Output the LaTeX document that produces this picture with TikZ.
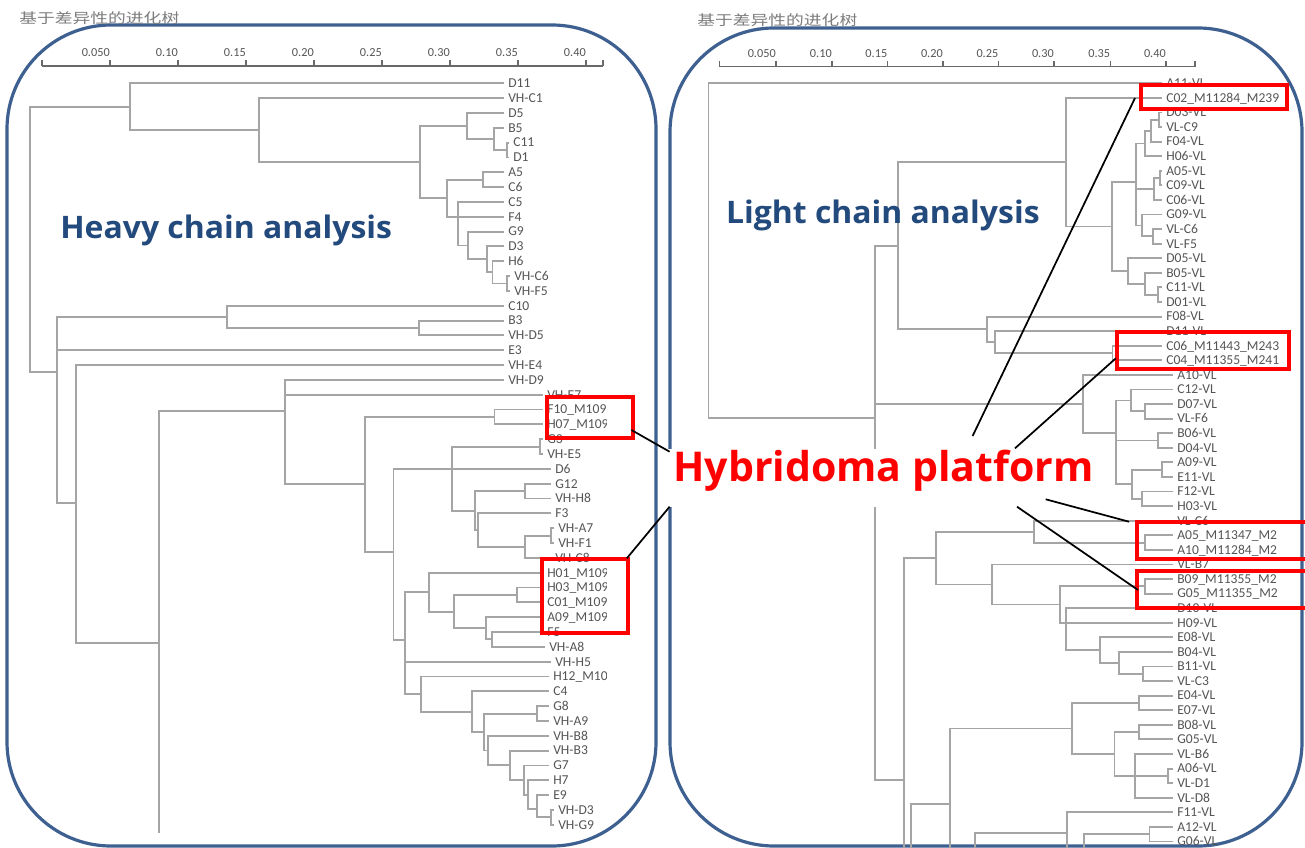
\documentclass[tikz,border=0pt]{standalone}
\usepackage{fontspec}
\setmainfont{Carlito}
\newfontfamily\bigfont{Open Sans}
\newfontfamily\cjkfont{Noto Sans CJK SC}
\usetikzlibrary{fit}
\definecolor{panelblue}{RGB}{62,96,145}
\definecolor{titleblue}{RGB}{35,74,125}
\definecolor{treegray}{RGB}{165,165,165}
\definecolor{labelgray}{RGB}{85,85,85}
\definecolor{axisgray}{RGB}{105,105,105}
\definecolor{cjkgray}{RGB}{125,125,125}
\begin{document}
\begin{tikzpicture}[x=0.75pt,y=-0.75pt,
  tree/.style={draw=treegray,line width=1.4pt},
  leaf/.style={anchor=west,inner sep=0pt,text height=6.5pt,text depth=0pt,font=\fontsize{10.2}{12}\selectfont,text=labelgray},
  axisline/.style={draw=axisgray,line width=1.1pt},
  axlab/.style={anchor=east,inner sep=0pt,text height=6pt,text depth=0pt,font=\fontsize{9.2}{10}\selectfont,text=labelgray},
  panel/.style={draw=panelblue,line width=2.4pt,rounded corners=78pt},
  redbox/.style={draw=red,line width=3pt,inner sep=0pt},
  pointer/.style={draw=black,line width=1.3pt},
  cjktitle/.style={anchor=base west,inner sep=0pt,text=cjkgray,font=\cjkfont\fontsize{10.5}{12}\selectfont},
  chaintitle/.style={anchor=base west,inner sep=0pt,text=titleblue,font=\bigfont\bfseries\fontsize{23.25}{28}\selectfont},
  hybtitle/.style={anchor=base west,inner sep=0pt,text=red,font=\bigfont\bfseries\fontsize{30.8}{36}\selectfont}
]
\useasboundingbox (0,0) rectangle (1305,848);
\fill[white] (0,0) rectangle (1305,848);

% ---------- panels ----------
\draw[panel] (7,25) rectangle (656,846);
\draw[panel] (670,28) rectangle (1302,846);

% ---------- titles ----------
\node[cjktitle] (tl) at (19,23.5) {\scalebox{1.27}[1]{基于差异性的进化树}};
\node[cjktitle] (tr) at (697,25.5) {\scalebox{1.27}[1]{基于差异性的进化树}};

% ---------- axes ----------
\draw[axisline] (42,66) -- (603,66);
\foreach \x in {42,603} \draw[axisline] (\x,66) -- (\x,60);
\foreach \x/\t in {110/0.050,178/0.10,246/0.15,314/0.20,382/0.25,450/0.30,518/0.35,586/0.40}{
  \draw[axisline] (\x,66) -- (\x,60);
  \node[axlab] at (\x,53) {\t};
}
\draw[axisline] (719.6,66.7) -- (1194.8,66.7);
\foreach \x in {719.6,1194.8} \draw[axisline] (\x,66.7) -- (\x,61);
\foreach \x/\t in {776/0.050,832/0.10,887.5/0.15,943/0.20,998.5/0.25,1054/0.30,1110.4/0.35,1166/0.40}{
  \draw[axisline] (\x,66.7) -- (\x,61);
  \node[axlab] at (\x,53.5) {\t};
}

% ---------- left tree leaves ----------
\begin{scope}
\clip (0,0) rectangle (606,848);
\foreach \i/\t/\e in {0/D11/504,1/VH-C1/504,2/D5/504,3/B5/504,4/C11/509,5/D1/509,6/A5/504,7/C6/504,8/C5/504,9/F4/504,10/G9/504,11/D3/504,12/H6/504,13/VH-C6/510,14/VH-F5/510,15/C10/504,16/B3/504,17/VH-D5/504,18/E3/504,19/VH-E4/504,20/VH-D9/504,21/VH-E7/543,22/F10\_M109/543,23/H07\_M109/543,24/G3/543,25/VH-E5/543,26/D6/551,27/G12/551,28/VH-H8/551,29/F3/551,30/VH-A7/554,31/VH-F1/554,32/VH-C8/551,33/H01\_M109/543,34/H03\_M109/543,35/C01\_M109/543,36/A09\_M109/543,37/F5/543,38/VH-A8/545,39/VH-H5/551,40/H12\_M109/549,41/C4/549,42/G8/549,43/VH-A9/549,44/VH-B8/549,45/VH-B3/549,46/G7/549,47/H7/549,48/E9/549,49/VH-D3/554,50/VH-G9/554}{
  \coordinate (l\i) at (\e,{83.3+14.83*\i});
  \node[leaf] (lt\i) at ({\e+4},{83.3+14.83*\i}) {\t};
}
\end{scope}

% left internal nodes
\coordinate (LF) at (506.7,150);   \coordinate (LE) at (494,138.9);
\coordinate (LD) at (467.2,126);   \coordinate (LH) at (483,179.7);
\coordinate (LAHb) at (507,283.5); \coordinate (LAI) at (492.5,272.4);
\coordinate (LAJ) at (487,259.4);  \coordinate (LJ) at (468.4,245.5);
\coordinate (LI) at (457.7,216.8); \coordinate (LG) at (446.6,198.2);
\coordinate (LC) at (419.8,162);   \coordinate (LB) at (258.9,130);
\coordinate (LA) at (130.4,106.7); \coordinate (LBD) at (418.8,328);
\coordinate (LCB) at (227.3,316.9);\coordinate (LN) at (494.5,417);
\coordinate (LGV) at (539.6,446.6);\coordinate (LGH) at (525.3,491.1);
\coordinate (LAFa) at (551.3,535.6);\coordinate (LS) at (525.3,546.7);
\coordinate (LR) at (477.7,530.3); \coordinate (LQ) at (474.7,510.7);
\coordinate (LP) at (452.4,468.9); \coordinate (LHC) at (516.8,594.9);
\coordinate (LZ) at (492.4,639.4); \coordinate (LY) at (486.1,628.4);
\coordinate (LX) at (453.7,611.6); \coordinate (LU) at (429.3,592.2);
\coordinate (LGA) at (536.6,713.6);\coordinate (LAH) at (551.3,817.4);
\coordinate (LAG) at (536.6,808.8);\coordinate (LAFn) at (528.2,794.6);
\coordinate (LAE) at (524,780);    \coordinate (LAD) at (510.1,765);
\coordinate (LAC) at (488.2,750.5);\coordinate (LAB) at (484,732);
\coordinate (LAA) at (472.2,711.8);\coordinate (LW) at (420.9,694);
\coordinate (LT) at (404.9,640);   \coordinate (LO) at (393.5,551.7);
\coordinate (LM) at (365.3,484);   \coordinate (LL) at (285.4,410.7);
\coordinate (LK) at (159,642.7);   \coordinate (LKb) at (159,833.3);
\coordinate (LNs) at (75.8,503.3); \coordinate (LNf) at (56.8,371.7);
\coordinate (Lroot) at (29.6,240);

\foreach \p/\c in {LF/l4,LF/l5,LE/l3,LE/LF,LD/l2,LD/LE,LH/l6,LH/l7,LAHb/l13,LAHb/l14,LAI/l12,LAI/LAHb,LAJ/l11,LAJ/LAI,LJ/l10,LJ/LAJ,LI/l8,LI/l9,LI/LJ,LG/LH,LG/LI,LC/LD,LC/LG,LB/l1,LB/LC,LA/l0,LA/LB,LBD/l16,LBD/l17,LCB/l15,LCB/LBD,LN/l22,LN/l23,LGV/l24,LGV/l25,LGH/l27,LGH/l28,LAFa/l30,LAFa/l31,LS/LAFa,LS/l32,LR/l29,LR/LS,LQ/LGH,LQ/LR,LP/LGV,LP/l26,LP/LQ,LHC/l34,LHC/l35,LZ/l37,LZ/l38,LY/l36,LY/LZ,LX/LHC,LX/LY,LU/l33,LU/LX,LGA/l42,LGA/l43,LAH/l49,LAH/l50,LAG/l48,LAG/LAH,LAFn/l47,LAFn/LAG,LAE/l46,LAE/LAFn,LAD/l45,LAD/LAE,LAC/l44,LAC/LAD,LAB/LGA,LAB/LAC,LAA/l41,LAA/LAB,LW/l40,LW/LAA,LT/LU,LT/l39,LT/LW,LO/LP,LO/LT,LM/LN,LM/LO,LL/l20,LL/l21,LL/LM,LK/LL,LK/LKb,LNs/l19,LNs/LK,LNf/LCB,LNf/l18,LNf/LNs,Lroot/LA,Lroot/LNf}
  \draw[tree] (\p) |- (\c);

% ---------- right tree leaves ----------
\begin{scope}
\clip (660,0) rectangle (1279,848);
\foreach \i/\t/\e in {0/A11-VL/1162,1/C02\_M11284\_M239/1162,2/D03-VL/1162,3/VL-C9/1162,4/F04-VL/1162,5/H06-VL/1162,6/A05-VL/1162,7/C09-VL/1162,8/C06-VL/1162,9/G09-VL/1162,10/VL-C6/1162,11/VL-F5/1162,12/D05-VL/1162,13/B05-VL/1162,14/C11-VL/1162,15/D01-VL/1162,16/F08-VL/1162,17/D11-VL/1162,18/C06\_M11443\_M243/1162,19/C04\_M11355\_M241/1162,20/A10-VL/1173,21/C12-VL/1173,22/D07-VL/1173,23/VL-F6/1173,24/B06-VL/1173,25/D04-VL/1173,26/A09-VL/1173,27/E11-VL/1173,28/F12-VL/1173,29/H03-VL/1173,30/VL-C6/1173,31/A05\_M11347\_M2/1173,32/A10\_M11284\_M2/1173,33/VL-B7/1173,34/B09\_M11355\_M2/1173,35/G05\_M11355\_M2/1173,36/D10-VL/1173,37/H09-VL/1173,38/E08-VL/1173,39/B04-VL/1173,40/B11-VL/1173,41/VL-C3/1173,42/E04-VL/1173,43/E07-VL/1173,44/B08-VL/1173,45/G05-VL/1173,46/VL-B6/1173,47/A06-VL/1173,48/VL-D1/1173,49/VL-D8/1173,50/F11-VL/1173,51/A12-VL/1173,52/G06-VL/1173}{
  \coordinate (r\i) at (\e,{83.3+14.58*\i});
  \node[leaf] (rt\i) at ({\e+4},{83.3+14.58*\i}) {\t};
}
\end{scope}

% right internal nodes
\coordinate (Rra) at (1158.6,119.8); \coordinate (Rrb) at (1150.8,130.7);
\coordinate (Rca) at (1145.4,143.5); \coordinate (Rrc) at (1160,178.1);
\coordinate (Rcb) at (1154,189);     \coordinate (Rrd) at (1152.8,236.4);
\coordinate (Rcc) at (1142,225.5);   \coordinate (RM) at (1136.3,182);
\coordinate (Rre) at (1157.7,294.7); \coordinate (Rrf) at (1144.6,283.7);
\coordinate (RN) at (1128.1,271);    \coordinate (RL) at (1111.7,226.5);
\coordinate (RJ) at (1066.4,162.2);  \coordinate (RP) at (1112.5,353);
\coordinate (RO) at (995.3,342.1);   \coordinate (RK) at (987,329.4);
\coordinate (RB) at (897.8,245.8);   \coordinate (Rrg) at (1144.6,411.4);
\coordinate (Rrh) at (1131,400.5);   \coordinate (Rri) at (1157.7,440.5);
\coordinate (Rrj) at (1161.7,469.7); \coordinate (Rrk) at (1141.7,498.8);
\coordinate (RT) at (1131.7,484.3);  \coordinate (RQ) at (1116,432.7);
\coordinate (RC) at (1082.9,403.8);  \coordinate (Rrl) at (1144.6,542.6);
\coordinate (RW) at (1034.3,531.7);  \coordinate (Rrm) at (1144.6,586.3);
\coordinate (Rrn) at (1143.3,673.8); \coordinate (Rro) at (1118.7,662.9);
\coordinate (Rrp) at (1100,650.1);   \coordinate (RZ) at (1066.4,622.8);
\coordinate (RY) at (1059.8,604.5);  \coordinate (RX) at (992.4,584.5);
\coordinate (RE) at (936.4,558.1);   \coordinate (Rrq) at (1139.2,703);
\coordinate (Rrr) at (1139.2,732.1); \coordinate (Rrs) at (1168,775.9);
\coordinate (RI) at (1135.1,775.9);  \coordinate (RH) at (1114.5,754);
\coordinate (RG) at (1072.2,728.5);  \coordinate (Rna) at (950,804);
\coordinate (Rnab) at (950,848);     \coordinate (Rnb) at (911,848);
\coordinate (RD) at (903.9,780);     \coordinate (RDb) at (903.9,848);
\coordinate (RA) at (874.7,418.3);   \coordinate (Rroot) at (708.5,250);
\coordinate (Rrt) at (1149.5,834.2); \coordinate (Rnc) at (1083.7,848);
\coordinate (Rnd) at (1067.2,848);   \coordinate (Rne) at (974.7,848);
\coordinate (Rndm) at (1067.2,832.7);

\foreach \p/\c in {Rra/r2,Rra/r3,Rrb/Rra,Rrb/r4,Rca/Rrb,Rca/r5,Rrc/r6,Rrc/r7,Rcb/Rrc,Rcb/r8,Rrd/r10,Rrd/r11,Rcc/r9,Rcc/Rrd,RM/Rca,RM/Rcb,RM/Rcc,Rre/r14,Rre/r15,Rrf/r13,Rrf/Rre,RN/r12,RN/Rrf,RL/RM,RL/RN,RJ/r1,RJ/RL,RP/r18,RP/r19,RO/r17,RO/RP,RK/r16,RK/RO,RB/RJ,RB/RK,Rrg/r22,Rrg/r23,Rrh/r21,Rrh/Rrg,Rri/r24,Rri/r25,Rrj/r26,Rrj/r27,Rrk/r28,Rrk/r29,RT/Rrj,RT/Rrk,RQ/Rrh,RQ/Rri,RQ/RT,RC/r20,RC/RQ,Rrl/r31,Rrl/r32,RW/r30,RW/Rrl,Rrm/r34,Rrm/r35,Rrn/r40,Rrn/r41,Rro/r39,Rro/Rrn,Rrp/r38,Rrp/Rro,RZ/r36,RZ/r37,RZ/Rrp,RY/Rrm,RY/RZ,RX/r33,RX/RY,RE/RW,RE/RX,Rrq/r42,Rrq/r43,Rrr/r44,Rrr/r45,Rrs/r47,Rrs/r48,RI/r46,RI/Rrs,RI/r49,RH/Rrr,RH/RI,RG/Rrq,RG/RH,Rna/RG,Rna/Rnab,Rnb/Rna,RD/RE,RD/RDb,RA/RB,RA/RC,RA/RD,Rroot/r0,Rroot/RA,Rnc/Rrt,Rnd/r50,Rne/Rndm,Rrt/r51,Rrt/r52}
  \draw[tree] (\p) |- (\c);

% ---------- red boxes ----------
\node[redbox,fit={(547,397.3) (633.4,437.7)}] (bxa) {};
\node[redbox,fit={(541.7,559.3) (628,633.3)}] (bxb) {};
\node[redbox,fit={(1140.5,85) (1287.3,109)}] (bxc) {};
\node[redbox,fit={(1117.4,332.3) (1289.4,369.3)}] (bxd) {};
\node[redbox,fit={(1137.2,521.7) (1325,559.3)}] (bxe) {};
\node[redbox,fit={(1137.2,571) (1325,608)}] (bxf) {};

% ---------- chain titles ----------
\node[chaintitle] (heavy) at (60,238.3) {\scalebox{1.03}[1]{Heavy chain analysis}};
\node[chaintitle] (light) at (725.8,224) {\scalebox{1.03}[1]{Light chain analysis}};

% ---------- Hybridoma label ----------
\fill[white] (665,449) rectangle (1094,507);
\node[hybtitle] (hyb) at (673,481.7) {Hybridoma platform};

% ---------- pointers ----------
\coordinate (ha) at (669.6,451.7);  \coordinate (pa) at (631.4,430);
\coordinate (hb) at (669.6,506.7);  \coordinate (pb) at (626.8,558.3);
\coordinate (hc) at (972.6,436);    \coordinate (pc) at (1135,98);
\coordinate (hd) at (1015,448.3);   \coordinate (pd) at (1115.8,358.3);
\coordinate (he) at (1045.7,499.3); \coordinate (pe) at (1129,521.7);
\coordinate (hf) at (1017,506.7);   \coordinate (pf) at (1138,590);
\foreach \a/\b in {ha/pa,hb/pb,hc/pc,hd/pd,he/pe,hf/pf}
  \draw[pointer] (\a) -- (\b);
\end{tikzpicture}
\end{document}
